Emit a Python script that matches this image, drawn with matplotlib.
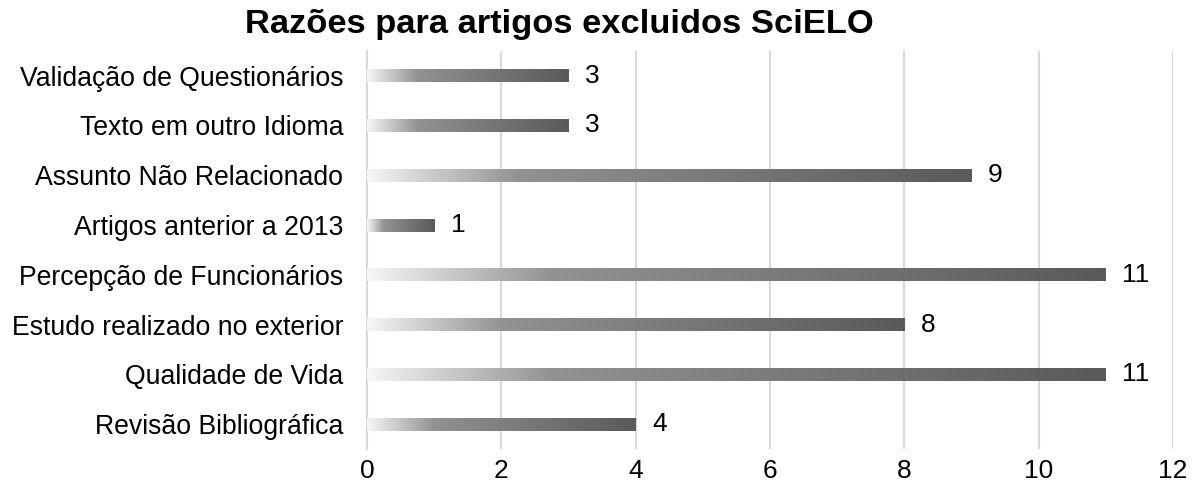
import numpy as np
import matplotlib.pyplot as plt
from matplotlib.colors import LinearSegmentedColormap

plt.rcParams['font.family'] = ['Liberation Sans', 'DejaVu Sans']

categorias = ['Revisão Bibliográfica', 'Qualidade de Vida', 'Estudo realizado no exterior',
              'Percepção de Funcionários', 'Artigos anterior a 2013', 'Assunto Não Relacionado',
              'Texto em outro Idioma', 'Validação de Questionários']
valores = [4, 11, 8, 11, 1, 9, 3, 3]

fig = plt.figure(figsize=(11.98, 4.93), dpi=100)
ax = fig.add_axes([0.3063, 0.089, 0.6727, 0.808])

cmap = LinearSegmentedColormap.from_list('grad', [(0, '#f6f6f6'), (0.25, '#929292'), (1, '#5a5a5a')])
grad = np.linspace(0, 1, 256).reshape(1, -1)

y = np.arange(len(categorias))
bars = ax.barh(y, valores, height=0.26, color='none', zorder=3)
for b, v in zip(bars, valores):
    x0, y0 = b.get_x(), b.get_y()
    im = ax.imshow(grad, cmap=cmap, aspect='auto', extent=(x0, x0 + b.get_width(), y0, y0 + b.get_height()),
                   zorder=3, interpolation='bilinear')
    im.set_clip_path(b)
    ax.text(v + 0.25, b.get_y() + b.get_height() / 2, str(v), va='center', ha='left', fontsize=19)

ax.set_xlim(0, 12)
ax.set_ylim(-0.5, 7.5)
ax.set_xticks(range(0, 13, 2))
ax.set_yticks(y)
ax.set_yticklabels(categorias, fontsize=19.2)
ax.tick_params(axis='x', labelsize=19, length=0, pad=7)
ax.tick_params(axis='y', length=0, pad=17)
ax.grid(axis='x', color='#d9d9d9', linewidth=1.5, zorder=0)
ax.set_axisbelow(True)
for s in ['top', 'right', 'bottom']:
    ax.spines[s].set_visible(False)
ax.spines['left'].set_color('#d9d9d9')
ax.spines['left'].set_linewidth(1.5)

fig.text(0.467, 0.951, 'Razões para artigos excluidos SciELO', ha='center', va='center',
         fontsize=24.8, fontweight='bold')

fig.savefig('out.png', dpi=100)
